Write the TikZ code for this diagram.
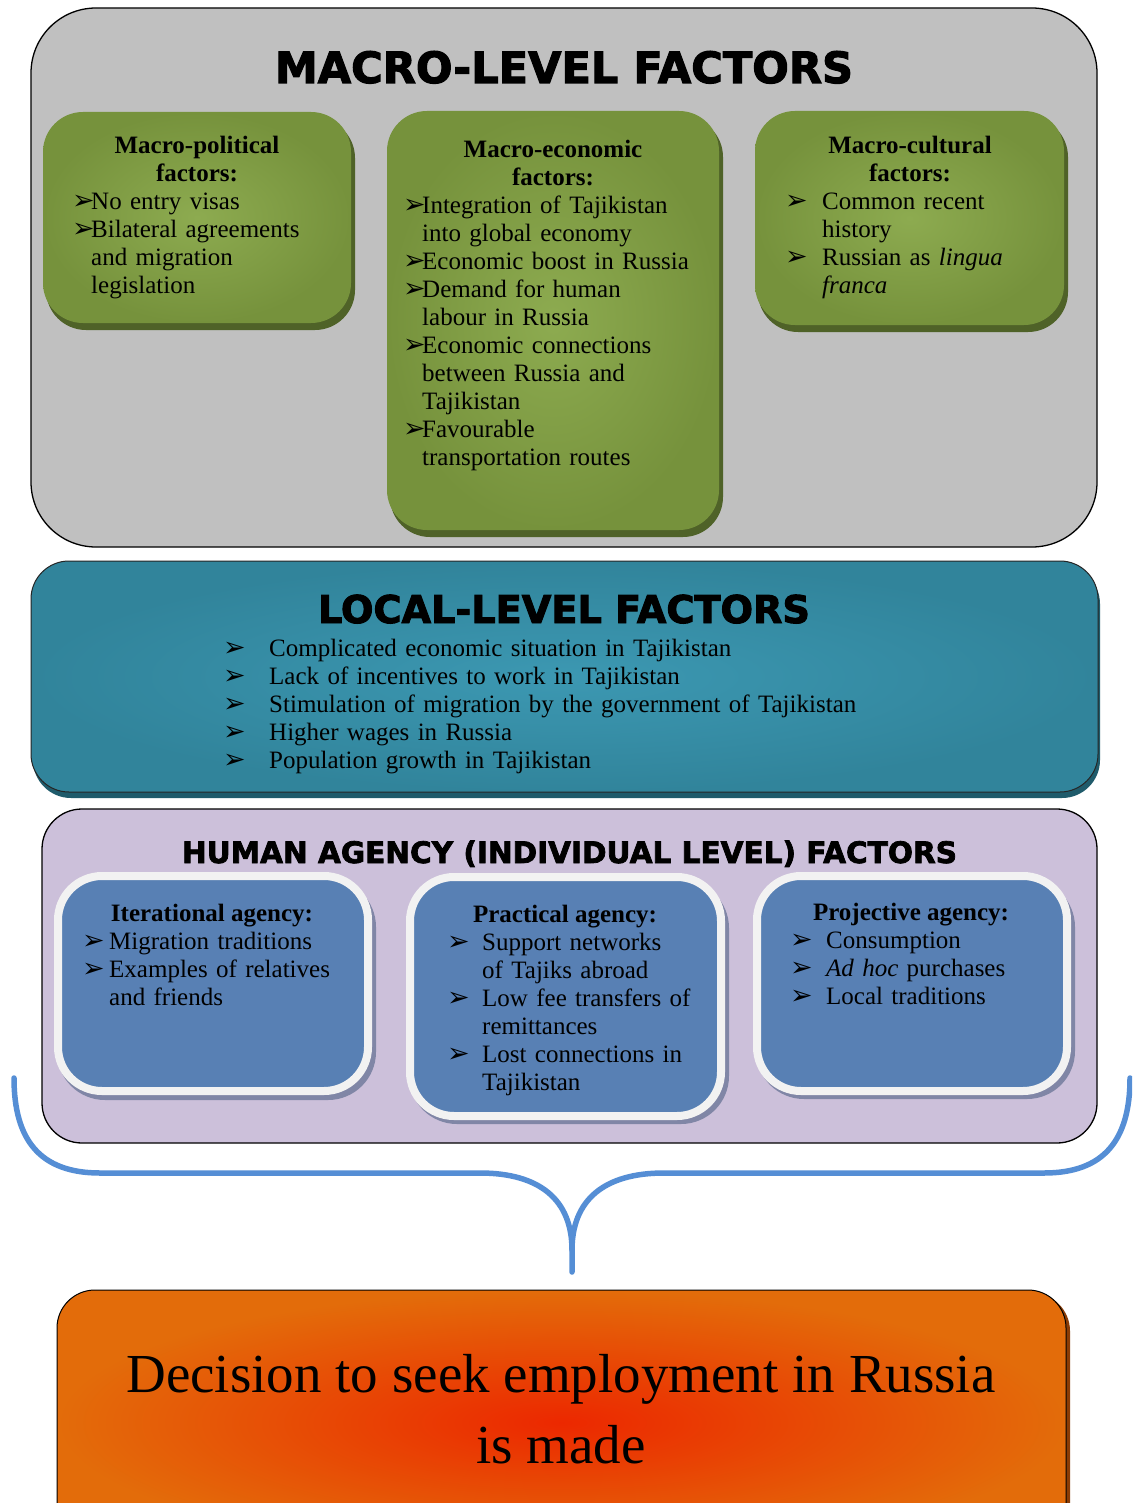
\documentclass[tikz,border=0pt]{standalone}
\usepackage{fontspec}
\usepackage{graphicx}
\setmainfont{Liberation Serif}
\newfontfamily\headfont[BoldFont={DejaVu Sans Bold},BoldFeatures={FakeBold=2.5}]{DejaVu Sans}
\newfontfamily\symfont{DejaVu Sans}

\definecolor{macrobg}{HTML}{C0C0C0}
\definecolor{greenout}{HTML}{76923C}
\definecolor{greenin}{HTML}{8DAB50}
\definecolor{greenshadow}{HTML}{4F6228}
\definecolor{tealout}{HTML}{31849B}
\definecolor{tealin}{HTML}{3C98B2}
\definecolor{tealshadow}{HTML}{1F5B6B}
\definecolor{humanbg}{HTML}{CCC0DA}
\definecolor{agencyblue}{HTML}{5880B4}
\definecolor{agencyrim}{HTML}{F2F2F2}
\definecolor{agencyshadow}{HTML}{8086A6}
\definecolor{bracecol}{HTML}{558ED5}
\definecolor{orangeout}{HTML}{E36C0A}
\definecolor{orangein}{HTML}{EC2800}
\definecolor{orangeshadow}{HTML}{8A3C06}

% bullet lists with a hanging arrow
\newlength\arwind
\newcommand\arw{{\symfont\fontsize{27}{27}\selectfont ➢}}
\newcommand\itm[1]{\par\noindent\hangindent=\arwind\hangafter=1\makebox[\arwind][l]{\arw}\rule{0pt}{20pt}#1}

\tikzset{
  greenbox/.style={rounded corners=40pt, inner color=greenin, outer color=greenout},
  greenshade/.style={fill=greenshadow, rounded corners=40pt},
  agencybox/.style={draw=agencyrim, line width=8pt, fill=agencyblue, rounded corners=44pt},
  agencyshade/.style={fill=agencyshadow, rounded corners=48pt},
  brace/.style={draw=bracecol, line width=5.5pt, line cap=round, line join=round},
  body/.style={inner sep=0pt, font=\fontsize{25}{28}\selectfont},
  listnode/.style={body, anchor=north west, text width=760pt, align=left},
  titlenode/.style={inner sep=0pt, anchor=north, align=center, font=\fontsize{25}{28}\selectfont\bfseries},
  headnode/.style={inner sep=0pt, anchor=base},
}

\begin{document}
\begin{tikzpicture}[x=1pt, y=-1pt]
\useasboundingbox (0,0) rectangle (1132,1503);
\fill[white] (0,0) rectangle (1132,1503);
\clip (0,0) rectangle (1132,1503);

% ---------- macro level ----------
\draw[fill=macrobg, line width=1.3pt, rounded corners=65pt] (31,8) rectangle (1097,547);
\node[headnode] (macroHead) at (564,83) {\resizebox{578pt}{!}{\headfont\bfseries MACRO-LEVEL FACTORS}};

\fill[greenshade] (46,118) rectangle (355,330);
\shade[greenbox] (43,112) rectangle (351,323);
\fill[greenshade] (390,117) rectangle (723,537);
\shade[greenbox] (387,111) rectangle (719,530);
\fill[greenshade] (758,117) rectangle (1068,332);
\shade[greenbox] (755,111) rectangle (1064,325);

\node[titlenode] (polTitle) at (197,133) {\rule{0pt}{20pt}Macro-political\\factors:};
\node[listnode] (polList) at (72,181) {\setlength\arwind{19pt}%
  \itm{No entry visas}%
  \itm{Bilateral agreements\newline and migration\newline legislation}\par};

\node[titlenode] (ecoTitle) at (553,137) {\rule{0pt}{20pt}Macro-economic\\factors:};
\node[listnode] (ecoList) at (403,185) {\setlength\arwind{19pt}%
  \itm{Integration of Tajikistan\newline into global economy}%
  \itm{Economic boost in Russia}%
  \itm{Demand for human\newline labour in Russia}%
  \itm{Economic connections\newline between Russia and\newline Tajikistan}%
  \itm{Favourable\newline transportation routes}\par};

\node[titlenode] (culTitle) at (910,133) {\rule{0pt}{20pt}Macro-cultural\\factors:};
\node[listnode] (culList) at (785,181) {\setlength\arwind{37pt}%
  \itm{Common recent\newline history}%
  \itm{Russian as \textit{lingua}\newline \textit{franca}}\par};

% ---------- local level ----------
\fill[tealshadow, rounded corners=38pt] (33,566) rectangle (1100,798);
\shadedraw[draw=black!85, line width=1pt, inner color=tealin, outer color=tealout, rounded corners=38pt] (31,561) rectangle (1098,792);
\node[headnode] (localHead) at (564,623) {\resizebox{492pt}{!}{\headfont\bfseries LOCAL-LEVEL FACTORS}};
\node[listnode] (localList) at (223,628) {\setlength\arwind{46pt}%
  \itm{Complicated economic situation in Tajikistan}%
  \itm{Lack of incentives to work in Tajikistan}%
  \itm{Stimulation of migration by the government of Tajikistan}%
  \itm{Higher wages in Russia}%
  \itm{Population growth in Tajikistan}\par};

% ---------- human agency ----------
\draw[fill=humanbg, line width=1.3pt, rounded corners=40pt] (42,809) rectangle (1097,1143);
\node[headnode] (humanHead) at (569.5,863) {\resizebox{775pt}{!}{\headfont\bfseries HUMAN AGENCY (INDIVIDUAL LEVEL) FACTORS}};

\fill[agencyshade] (57,879) rectangle (376,1100);
\draw[agencybox] (58,876) rectangle (368,1091);
\fill[agencyshade] (409,880) rectangle (729,1124);
\draw[agencybox] (410,877) rectangle (721,1116);
\fill[agencyshade] (756,879) rectangle (1075,1099);
\draw[agencybox] (757,876) rectangle (1067,1091);

\node[titlenode] (iterTitle) at (212,901) {\rule{0pt}{20pt}Iterational agency:};
\node[listnode] (iterList) at (82,921) {\setlength\arwind{27pt}%
  \itm{Migration traditions}%
  \itm{Examples of relatives\newline and friends}\par};

\node[titlenode] (pracTitle) at (565,902) {\rule{0pt}{20pt}Practical agency:};
\node[listnode] (pracList) at (447,922) {\setlength\arwind{35pt}%
  \itm{Support networks\newline of Tajiks abroad}%
  \itm{Low fee transfers of\newline remittances}%
  \itm{Lost connections in\newline Tajikistan}\par};

\node[titlenode] (projTitle) at (911,900) {\rule{0pt}{20pt}Projective agency:};
\node[listnode] (projList) at (790,920) {\setlength\arwind{36pt}%
  \itm{Consumption}%
  \itm{\textit{Ad hoc} purchases}%
  \itm{Local traditions}\par};

% ---------- brace gathering all levels ----------
\coordinate (braceL) at (14,1078);
\coordinate (braceR) at (1130,1078);
\coordinate (braceTip) at (572,1272);
\draw[brace] (braceL) .. controls (14,1140) and (40,1173) .. (100,1173) -- (480,1173)
  .. controls (540,1173) and (572,1200) .. (572,1250) -- (braceTip);
\draw[brace] (braceR) .. controls (1130,1140) and (1104,1173) .. (1044,1173) -- (664,1173)
  .. controls (604,1173) and (572,1200) .. (572,1250);

% ---------- decision ----------
\fill[orangeshadow, rounded corners=38pt] (60,1293) rectangle (1070,1560);
\shadedraw[draw=black, line width=1pt, inner color=orangein, outer color=orangeout, rounded corners=38pt] (57,1290) rectangle (1066,1555);
\node[inner sep=0pt, anchor=north, align=center, font=\fontsize{55}{71}\selectfont] (decision) at (561,1347)
  {\rule{0pt}{45pt}Decision to seek employment in Russia\\is made};
\end{tikzpicture}
\end{document}
